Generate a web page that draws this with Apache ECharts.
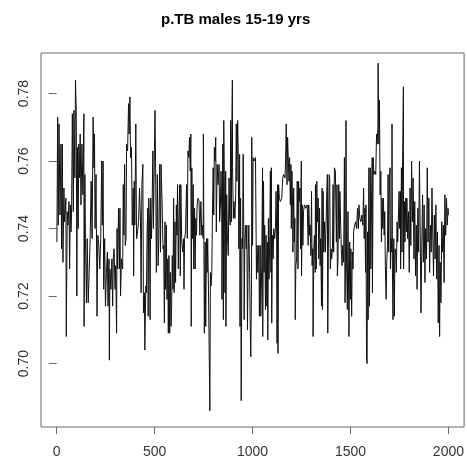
<!DOCTYPE html>
<html>
<head>
<meta charset="utf-8">
<script src="https://cdn.jsdelivr.net/npm/echarts@6/dist/echarts.min.js"></script>
<style>
html,body{margin:0;padding:0;background:#fff;}
#chart{width:467px;height:463px;}
</style>
</head>
<body>
<div id="chart"></div>
<script>
var chartTitle = "p.TB males 15-19 yrs";
var xTicks = [0, 500, 1000, 1500, 2000];
var yTicks = [0.70, 0.72, 0.74, 0.76, 0.78];

// iteration at which each level of the trace starts
var iterations = [
1,5,8,12,17,22,25,29,32,37,40,47,49,54,58,63,66,70,73,76,80,85,88,93,96,100,103,106,110,113,117,120,124,129,134,139,140,144,147,152,156,161,166,171,176,181,186,190,193,196,201,206,210,215,220,225,230,233,237,240,245,249,254,259,262,267,269,272,277,282,286,
289,293,298,301,306,308,311,316,320,323,326,331,337,340,343,347,350,354,357,362,367,370,374,377,382,386,391,393,396,399,403,404,408,413,418,423,428,431,435,440,443,448,450,455,458,462,465,467,470,474,477,480,484,487,491,494,499,502,506,509,514,518,521,526,530,533,538,543,546,550,553,556,560,563,567,570,573,577,580,
584,587,590,594,597,600,604,607,611,614,617,621,624,628,631,634,638,643,648,650,653,658,663,667,670,675,678,682,685,687,690,694,697,700,704,707,710,714,717,722,727,731,736,741,744,748,749,753,754,758,761,765,768,771,775,778,782,785,788,792,795,799,802,805,809,812,815,819,824,829,832,836,839,843,844,848,851,853,856,859,863,864,868,871,
876,880,883,886,888,892,893,897,898,902,905,910,914,917,920,924,927,930,934,936,939,941,942,946,949,952,956,957,961,964,968,971,974,978,981,985,988,991,995,996,1000,1003,1008,1015,1020,1023,1027,1032,1035,1039,1042,1047,1051,1052,1056,1059,1062,1066,1069,1073,1076,1078,1081,1084,1088,1091,1094,1096,1098,1101,1105,1108,1113,1117,1120,1123,1125,1128,1130,1133,1137,1142,1149,1154,1159,1166,1169,1172,1176,
1179,1183,1186,1189,1193,1196,1198,1201,1205,1206,1210,1213,1216,1218,1221,1225,1228,1232,1235,1238,1242,1245,1249,1250,1254,1257,1260,1265,1272,1279,1284,1287,1291,1294,1298,1301,1304,1308,1309,1313,1316,1320,1321,1325,1328,1331,1335,1338,1342,1345,1348,1352,1355,1357,1360,1364,1367,1372,1375,1379,1382,1384,1387,1391,1394,1397,1401,1404,1408,1411,1414,1418,1423,1428,1431,1433,1436,1440,1443,1446,1450,1453,1457,1460,
1465,1469,1472,1475,1477,1480,1484,1487,1491,1492,1496,1499,1502,1506,1509,1513,1516,1521,1526,1531,1536,1540,1543,1548,1553,1558,1563,1567,1570,1573,1577,1579,1582,1585,1587,1590,1594,1597,1601,1604,1607,1611,1612,1616,1619,1624,1629,1633,1636,1640,1641,1645,1648,1651,1655,1658,1661,1665,1668,1672,1675,1678,1682,1685,1689,1692,1695,1699,1702,1704,1707,1711,1712,1714,1717,1721,1724,1727,1731,1734,1738,1741,1744,1748,1751,1755,1756,1760,1763,1766,1770,1771,1775,1778,1782,1785,1788,1792,
1796,1800,1804,1808,1812,1816,1820,1824,1828,1832,1836,1840,1844,1848,1852,1856,1860,1864,1868,1872,1876,1880,1884,1888,1892,1896,1900,1904,1908,1912,1916,1920,1924,1928,1932,1936,1940,1944,1948,1952,1955,1958,1962,1966,1970,1974,1978,1982,1986,1990,1994,1998,2000
];

var values = [
0.736,0.773,0.741,0.771,0.744,0.765,0.734,0.765,0.730,0.752,0.742,0.749,0.708,0.745,0.741,0.748,0.728,0.747,0.739,0.744,0.774,0.745,0.775,0.755,0.784,0.775,0.720,0.764,0.740,0.765,0.755,0.768,0.747,0.765,0.750,0.774,0.711,0.756,0.737,0.718,0.737,0.718,0.727,0.737,0.754,0.737,0.773,0.758,0.768,0.740,0.756,0.714,0.738,0.735,0.728,0.737,0.760,0.741,0.760,0.722,0.737,0.717,0.727,0.733,0.717,0.731,0.701,0.728,0.722,0.731,0.717,
0.731,0.734,0.722,0.729,0.709,0.740,0.728,0.746,0.728,0.746,0.720,0.731,0.728,0.753,0.738,0.759,0.735,0.737,0.765,0.763,0.777,0.768,0.779,0.761,0.764,0.741,0.752,0.726,0.754,0.741,0.764,0.771,0.737,0.739,0.742,0.752,0.742,0.721,0.753,0.759,0.715,0.721,0.704,0.723,0.721,0.740,0.746,0.714,0.749,0.742,0.713,0.749,0.737,0.746,0.763,0.740,0.763,0.775,0.753,0.727,0.756,0.729,0.736,0.759,0.733,0.759,0.748,0.734,0.735,0.712,0.742,0.722,0.741,0.719,0.731,0.709,0.732,0.709,0.727,
0.711,0.717,0.732,0.722,0.749,0.721,0.742,0.724,0.747,0.738,0.753,0.728,0.743,0.753,0.726,0.753,0.737,0.733,0.737,0.722,0.737,0.739,0.753,0.737,0.763,0.761,0.767,0.757,0.768,0.711,0.758,0.737,0.753,0.728,0.746,0.728,0.743,0.738,0.747,0.749,0.748,0.738,0.748,0.738,0.741,0.737,0.768,0.720,0.709,0.736,0.711,0.737,0.727,0.737,0.722,0.707,0.686,0.727,0.723,0.727,0.744,0.758,0.744,0.764,0.760,0.767,0.739,0.759,0.753,0.759,0.742,0.747,0.757,0.745,0.719,0.765,0.713,0.772,0.754,0.721,0.757,0.711,0.750,0.739,
0.732,0.755,0.743,0.741,0.772,0.742,0.763,0.784,0.758,0.743,0.748,0.743,0.750,0.771,0.754,0.772,0.762,0.734,0.762,0.711,0.749,0.707,0.689,0.737,0.734,0.762,0.734,0.713,0.737,0.741,0.734,0.741,0.710,0.733,0.741,0.727,0.712,0.702,0.725,0.767,0.735,0.761,0.760,0.761,0.725,0.735,0.727,0.735,0.714,0.735,0.714,0.729,0.758,0.708,0.754,0.727,0.741,0.716,0.738,0.717,0.736,0.707,0.743,0.725,0.738,0.757,0.727,0.758,0.712,0.738,0.731,0.740,0.737,0.740,0.751,0.739,0.706,0.753,0.703,0.753,0.749,0.748,0.749,0.755,0.756,0.755,0.761,0.771,0.753,
0.767,0.767,0.754,0.761,0.747,0.759,0.740,0.757,0.745,0.733,0.752,0.736,0.743,0.713,0.729,0.731,0.754,0.728,0.754,0.748,0.752,0.734,0.760,0.726,0.747,0.735,0.745,0.747,0.746,0.747,0.735,0.747,0.738,0.741,0.732,0.751,0.729,0.734,0.708,0.734,0.738,0.727,0.753,0.728,0.754,0.742,0.749,0.731,0.746,0.729,0.737,0.717,0.752,0.716,0.751,0.733,0.742,0.733,0.733,0.751,0.756,0.709,0.734,0.756,0.755,0.728,0.734,0.731,0.734,0.753,0.733,0.758,0.757,0.736,0.753,0.726,0.730,0.753,0.737,0.751,0.741,0.734,0.729,0.735,
0.730,0.761,0.718,0.730,0.772,0.730,0.716,0.745,0.717,0.708,0.736,0.719,0.734,0.714,0.733,0.728,0.739,0.741,0.742,0.740,0.746,0.740,0.747,0.743,0.742,0.744,0.741,0.752,0.737,0.746,0.727,0.747,0.701,0.700,0.739,0.713,0.758,0.717,0.758,0.728,0.746,0.761,0.721,0.761,0.756,0.757,0.756,0.768,0.765,0.770,0.789,0.765,0.778,0.750,0.757,0.736,0.749,0.740,0.749,0.738,0.745,0.729,0.719,0.730,0.735,0.756,0.733,0.755,0.758,0.728,0.737,0.733,0.771,0.728,0.713,0.737,0.714,0.734,0.733,0.727,0.742,0.736,0.742,0.751,0.740,0.751,0.728,0.758,0.733,0.760,0.782,0.728,0.748,0.736,0.749,0.739,0.749,0.737,
0.745,0.727,0.752,0.735,0.760,0.742,0.755,0.731,0.748,0.726,0.741,0.722,0.746,0.733,0.760,0.738,0.715,0.735,0.750,0.730,0.747,0.724,0.740,0.731,0.758,0.736,0.749,0.727,0.741,0.733,0.752,0.738,0.726,0.744,0.731,0.747,0.725,0.739,0.712,0.735,0.708,0.730,0.718,0.742,0.733,0.741,0.724,0.750,0.738,0.749,0.741,0.746,0.744
];

var seriesData = iterations.map(function (t, i) { return [t, values[i]]; });

var chart = echarts.init(document.getElementById('chart'), null, {renderer: 'canvas'});
var font = '"Liberation Sans", Arial, sans-serif';
chart.setOption({
  animation: false,
  backgroundColor: '#ffffff',
  graphic: [{
    type: 'text',
    left: 253 - 92,
    top: 12,
    style: {
      text: chartTitle,
      font: 'bold 15px ' + font,
      fill: '#000000'
    }
  }],
  grid: {
    left: 41, top: 53, right: 1, bottom: 36,
    show: true, borderColor: '#666666', borderWidth: 1,
    containLabel: false
  },
  xAxis: {
    type: 'value', min: -80, max: 2080,
    axisLine: {show: false},
    splitLine: {show: false},
    axisTick: {show: true, customValues: xTicks, length: 7, lineStyle: {color: '#666666'}},
    axisLabel: {customValues: xTicks, margin: 18, color: '#333333', fontSize: 14, fontFamily: font,
      formatter: function (v) { return String(v); }}
  },
  yAxis: {
    type: 'value', min: 0.6812, max: 0.7920,
    axisLine: {show: false},
    splitLine: {show: false},
    axisTick: {show: true, customValues: yTicks, length: 8, lineStyle: {color: '#666666'}},
    axisLabel: {customValues: yTicks, margin: 10, rotate: 90, color: '#333333', fontSize: 14, fontFamily: font,
      align: 'center', verticalAlign: 'bottom',
      formatter: function (v) { return v.toFixed(2); }}
  },
  series: [{
    type: 'line',
    step: 'end',
    data: seriesData,
    showSymbol: false,
    symbol: 'none',
    lineStyle: {color: '#111111', width: 1},
    z: 2
  }]
});
</script>
</body>
</html>
